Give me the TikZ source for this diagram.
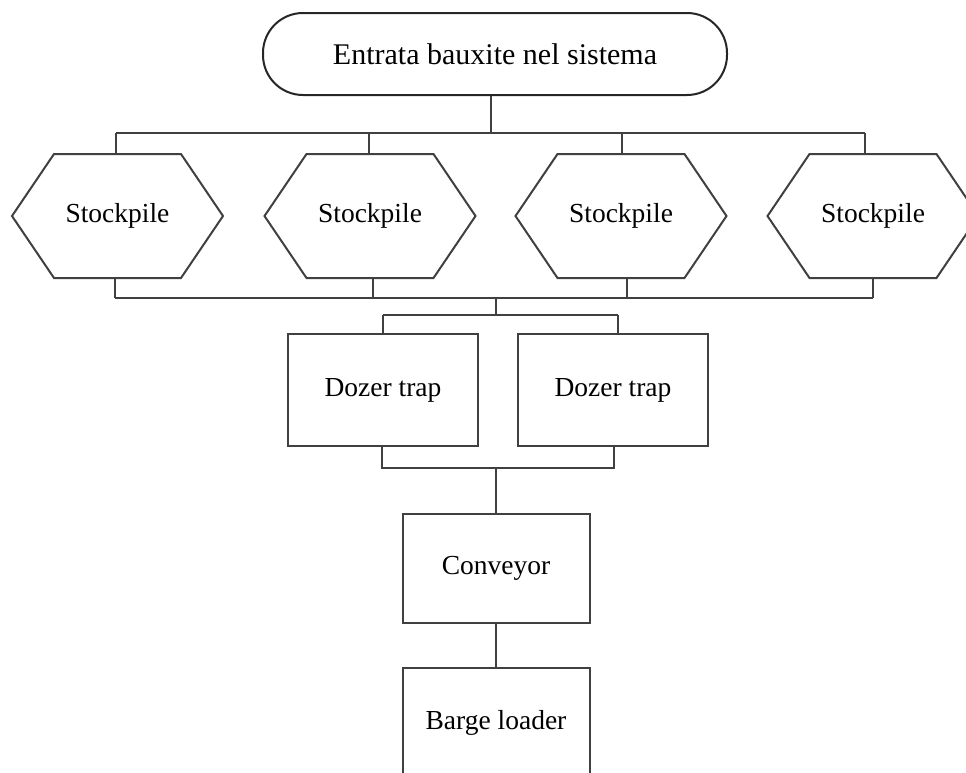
\documentclass[tikz,border=0pt]{standalone}
\usepackage{fontspec}
\setmainfont{Liberation Serif}
\begin{document}
\begin{tikzpicture}[x=1pt,y=-1pt,
  line width=2pt,
  color=black!75,
  lbl/.style={font=\fontsize{27.5}{32}\selectfont, text=black},
  termbox/.style={draw=black!85, rounded corners=40pt, minimum width=464pt, minimum height=82pt, inner sep=0pt, font=\fontsize{30}{36}\selectfont, text=black},
  hexbox/.style={lbl, minimum width=209pt, minimum height=122pt, inner sep=0pt},
  procbox/.style={lbl, draw=black!75, minimum width=190pt, minimum height=112pt, inner sep=0pt},
  smallbox/.style={lbl, draw=black!75, minimum width=187pt, minimum height=109pt, inner sep=0pt}
]
\useasboundingbox (0,0) rectangle (966,772);
\clip (0,0) rectangle (966,772);

% start of the flow
\node[termbox] (start) at (495,54) {Entrata bauxite nel sistema};

% the four stockpiles
\node[hexbox] (h1) at (117.5,216) {Stockpile};
\node[hexbox] (h2) at (370,216) {Stockpile};
\node[hexbox] (h3) at (621,216) {Stockpile};
\node[hexbox] (h4) at (873,216) {Stockpile};
\foreach \s in {h1,h2,h3,h4}{
  \draw (\s.west) -- ([xshift=42pt]\s.north west) -- ([xshift=-42pt]\s.north east)
        -- (\s.east) -- ([xshift=-42pt]\s.south east) -- ([xshift=42pt]\s.south west) -- cycle;
}

% dozer traps, conveyor, barge loader
\node[procbox] (d1) at (383,390) {Dozer trap};
\node[procbox] (d2) at (613,390) {Dozer trap};
\node[smallbox] (conv) at (496,568.5) {Conveyor};
\node[smallbox] (barge) at (496,722.5) {Barge loader};

% distribution bus above the stockpiles
\coordinate (tbus) at (491,133);
\coordinate (t1) at (116,133);
\coordinate (t2) at (369,133);
\coordinate (t3) at (622,133);
\coordinate (t4) at (865,133);
\draw (start.south -| tbus) -- (tbus);
\draw (t1) -- (t4);
\foreach \c/\s in {t1/h1,t2/h2,t3/h3,t4/h4}{
  \draw (\c) -- (\c |- \s.north);
}

% collecting bus below the stockpiles
\coordinate (b1) at (115,298);
\coordinate (b2) at (373,298);
\coordinate (b3) at (627,298);
\coordinate (b4) at (873,298);
\coordinate (bmid) at (496,298);
\foreach \c/\s in {b1/h1,b2/h2,b3/h3,b4/h4}{
  \draw (\c |- \s.south) -- (\c);
}
\draw (b1) -- (b4);

% split to the dozer traps
\coordinate (dsplit) at (496,315);
\coordinate (ds1) at (383,315);
\coordinate (ds2) at (618,315);
\draw (bmid) -- (dsplit);
\draw (ds1) -- (ds2);
\draw (ds1) -- (ds1 |- d1.north);
\draw (ds2) -- (ds2 |- d2.north);

% merge from the dozer traps
\coordinate (dm1) at (382,468);
\coordinate (dm2) at (614,468);
\coordinate (dmid) at (496,468);
\draw (dm1 |- d1.south) -- (dm1) -- (dm2) -- (dm2 |- d2.south);
\draw (dmid) -- (conv.north);

% conveyor to barge loader
\draw (conv.south) -- (barge.north);
\end{tikzpicture}
\end{document}
